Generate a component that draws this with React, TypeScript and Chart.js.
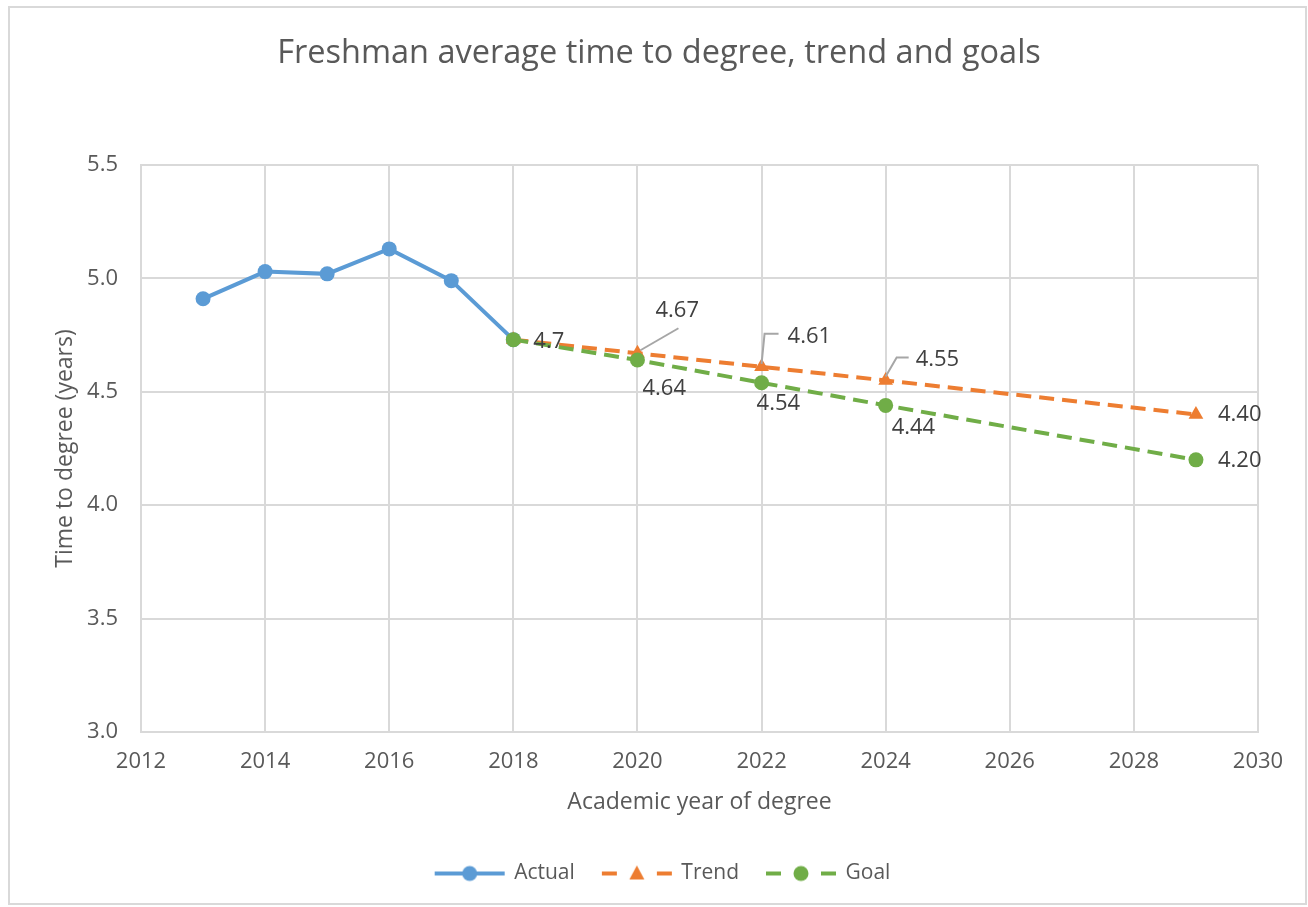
import React, { useEffect, useRef } from "react";
import { Chart, registerables } from "chart.js";

Chart.register(...registerables);

// ---- Data ----
const actualYears = [2013, 2014, 2015, 2016, 2017, 2018];
const actualValues = [4.91, 5.03, 5.02, 5.13, 4.99, 4.73];
const projectionYears = [2018, 2020, 2022, 2024, 2029];
const trendValues = [4.73, 4.67, 4.61, 4.55, 4.4];
const goalValues = [4.73, 4.64, 4.54, 4.44, 4.2];
const trendLabels = ["4.7", "4.67", "4.61", "4.55", "4.40"];
const goalLabels = ["", "4.64", "4.54", "4.44", "4.20"];
const seriesNames = ["Actual", "Trend", "Goal"];
const xMin = 2012;
const xMax = 2030;
const xStep = 2;
const yMin = 3.0;
const yMax = 5.5;
const yStep = 0.5;
const chartTitle = "Freshman average time to degree, trend and goals";
const xTitle = "Academic year of degree";
const yTitle = "Time to degree (years)";

// ---- Styling ----
const FONT = "'Open Sans', sans-serif";
const TEXT = "#595959";
const LABEL_TEXT = "#404040";
const GRID = "#D9D9D9";
const BLUE = "#5B9BD5";
const ORANGE = "#ED7D31";
const GREEN = "#70AD47";
const LEADER = "#A6A6A6";
const TITLE_SHIFT = 26;
const LEGEND_SHIFT = 30;

type LabelStyle = { dx: number; dy: number; leader?: number[][] };
const trendLabelStyle: LabelStyle[] = [
  { dx: 20, dy: 2 },
  { dx: 18, dy: -43, leader: [[3, -3], [41, -25]] },
  { dx: 26, dy: -30, leader: [[0, -3], [3, -33], [17, -33]] },
  { dx: 30, dy: -21, leader: [[0, -4], [11, -23], [23, -23]] },
  { dx: 22, dy: 0 },
];
const goalLabelStyle: LabelStyle[] = [
  { dx: 0, dy: 0 },
  { dx: 5, dy: 29 },
  { dx: -5, dy: 21 },
  { dx: 6, dy: 22 },
  { dx: 22, dy: 1 },
];

function makeIcon(color: string, dashed: boolean, shape: "circle" | "triangle") {
  const c = document.createElement("canvas");
  c.width = 72;
  c.height = 20;
  const ctx = c.getContext("2d")!;
  ctx.strokeStyle = color;
  ctx.fillStyle = color;
  ctx.lineWidth = 4;
  const cy = 10;
  if (dashed) {
    ctx.beginPath();
    ctx.moveTo(1, cy);
    ctx.lineTo(16, cy);
    ctx.moveTo(56, cy);
    ctx.lineTo(71, cy);
    ctx.stroke();
  } else {
    ctx.beginPath();
    ctx.moveTo(1, cy);
    ctx.lineTo(71, cy);
    ctx.stroke();
  }
  ctx.beginPath();
  if (shape === "circle") {
    ctx.arc(36, cy, 7.5, 0, Math.PI * 2);
  } else {
    ctx.moveTo(36, cy - 8);
    ctx.lineTo(43.5, cy + 6);
    ctx.lineTo(28.5, cy + 6);
    ctx.closePath();
  }
  ctx.fill();
  return c;
}

const framePlugin = {
  id: "frame",
  afterLayout(chart: any) {
    if (chart.titleBlock) {
      chart.titleBlock.left += TITLE_SHIFT;
      chart.titleBlock.right += TITLE_SHIFT;
    }
    if (chart.legend) {
      chart.legend.left += LEGEND_SHIFT;
      chart.legend.right += LEGEND_SHIFT;
    }
  },
  beforeDraw(chart: any) {
    const ctx = chart.ctx;
    ctx.save();
    ctx.fillStyle = "#ffffff";
    ctx.fillRect(0, 0, chart.width, chart.height);
    ctx.strokeStyle = GRID;
    ctx.lineWidth = 2;
    ctx.strokeRect(9, 7, chart.width - 11, chart.height - 10);
    ctx.restore();
  },
};

const labelPlugin = {
  id: "pointLabels",
  afterDatasetsDraw(chart: any) {
    const ctx = chart.ctx;
    const sets: [number, string[], LabelStyle[]][] = [
      [1, trendLabels, trendLabelStyle],
      [2, goalLabels, goalLabelStyle],
    ];
    ctx.save();
    ctx.font = `22px ${FONT}`;
    ctx.textBaseline = "middle";
    ctx.textAlign = "left";
    for (const [dsIndex, texts, styles] of sets) {
      const meta = chart.getDatasetMeta(dsIndex);
      meta.data.forEach((pt: any, i: number) => {
        const text = texts[i];
        if (!text) return;
        const st = styles[i];
        if (st.leader) {
          ctx.strokeStyle = LEADER;
          ctx.lineWidth = 2;
          ctx.beginPath();
          st.leader.forEach((p, k) => {
            if (k === 0) ctx.moveTo(pt.x + p[0], pt.y + p[1]);
            else ctx.lineTo(pt.x + p[0], pt.y + p[1]);
          });
          ctx.stroke();
        }
        ctx.fillStyle = LABEL_TEXT;
        ctx.fillText(text, pt.x + st.dx, pt.y + st.dy);
      });
    }
    ctx.restore();
  },
};

export default function App() {
  const ref = useRef<HTMLCanvasElement>(null);
  useEffect(() => {
    if (!ref.current) return;
    const icons = [
      makeIcon(BLUE, false, "circle"),
      makeIcon(ORANGE, true, "triangle"),
      makeIcon(GREEN, true, "circle"),
    ];
    const chart = new Chart(ref.current, {
      type: "line",
      data: {
        datasets: [
          {
            label: seriesNames[0],
            data: actualYears.map((x, i) => ({ x, y: actualValues[i] })),
            borderColor: BLUE,
            backgroundColor: BLUE,
            borderWidth: 4,
            pointRadius: 7.5,
            pointHoverRadius: 7.5,
            pointBorderWidth: 0,
            pointStyle: "circle",
            order: 3,
          },
          {
            label: seriesNames[1],
            data: projectionYears.map((x, i) => ({ x, y: trendValues[i] })),
            borderColor: ORANGE,
            backgroundColor: ORANGE,
            borderWidth: 4,
            borderDash: [15, 8],
            pointRadius: 8.5,
            pointHoverRadius: 8.5,
            pointBorderWidth: 0,
            pointStyle: "triangle",
            order: 2,
          },
          {
            label: seriesNames[2],
            data: projectionYears.map((x, i) => ({ x, y: goalValues[i] })),
            borderColor: GREEN,
            backgroundColor: GREEN,
            borderWidth: 4,
            borderDash: [15, 8],
            pointRadius: 7.5,
            pointHoverRadius: 7.5,
            pointBorderWidth: 0,
            pointStyle: "circle",
            order: 1,
          },
        ],
      },
      options: {
        responsive: false,
        animation: false,
        events: [],
        layout: { padding: { left: 8, right: 50, top: 0, bottom: 13 } },
        plugins: {
          title: {
            display: true,
            text: chartTitle,
            color: TEXT,
            font: { family: FONT, size: 32.5, weight: "normal" },
            padding: { top: 34.5, bottom: 91.5 },
          },
          legend: {
            position: "bottom",
            labels: {
              usePointStyle: true,
              pointStyleWidth: 68,
              boxHeight: 20,
              padding: 28,
              color: TEXT,
              font: { family: FONT, size: 21 },
              generateLabels: (c: any) =>
                c.data.datasets.map((ds: any, i: number) => ({
                  text: ds.label,
                  fillStyle: ds.borderColor,
                  strokeStyle: ds.borderColor,
                  lineWidth: 0,
                  pointStyle: icons[i],
                  hidden: false,
                  datasetIndex: i,
                  fontColor: TEXT,
                })),
            },
          },
          tooltip: { enabled: false },
        },
        scales: {
          x: {
            type: "linear",
            min: xMin,
            max: xMax,
            afterFit: (s: any) => {
              s.height = 103;
            },
            ticks: {
              stepSize: xStep,
              color: TEXT,
              padding: 17,
              font: { family: FONT, size: 22 },
              callback: (v: any) => String(v),
            },
            grid: { color: GRID, lineWidth: 2, drawTicks: false },
            border: { color: GRID, width: 2 },
            title: {
              display: true,
              text: xTitle,
              color: TEXT,
              font: { family: FONT, size: 23 },
              padding: { top: 4, bottom: 19 },
            },
          },
          y: {
            min: yMin,
            max: yMax,
            afterFit: (s: any) => {
              s.width = 133;
            },
            ticks: {
              stepSize: yStep,
              color: TEXT,
              padding: 23,
              font: { family: FONT, size: 22 },
              callback: (v: any) => Number(v).toFixed(1),
            },
            grid: { color: GRID, lineWidth: 2, drawTicks: false },
            border: { color: GRID, width: 2 },
            title: {
              display: true,
              text: yTitle,
              color: TEXT,
              font: { family: FONT, size: 23 },
              padding: { top: 44, bottom: 0 },
            },
          },
        },
      },
      plugins: [framePlugin, labelPlugin],
    } as any);
    return () => chart.destroy();
  }, []);
  return (
    <div style={{ position: "fixed", left: 0, top: 0, width: 1308, height: 907 }}>
      <canvas ref={ref} width={1308} height={907} />
    </div>
  );
}
